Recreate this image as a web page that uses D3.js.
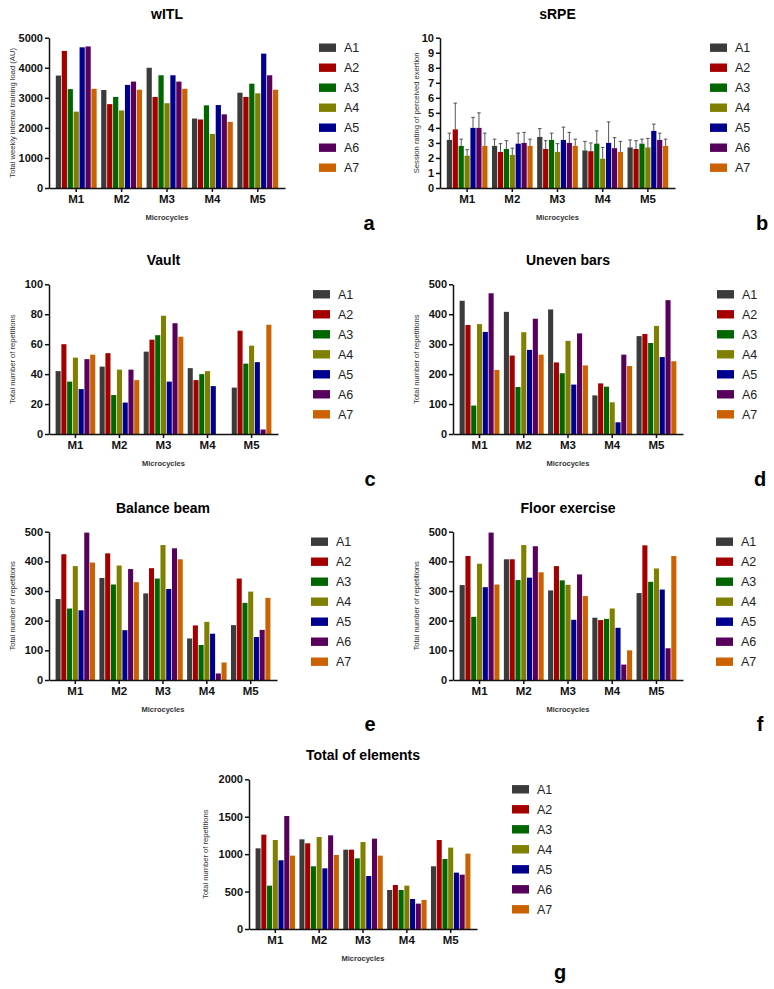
<!DOCTYPE html>
<html>
<head>
<meta charset="utf-8">
<script src="https://cdn.jsdelivr.net/npm/d3@7"></script>
<style>
  body { margin: 0; background: #fff; }
  svg { font-family: "Liberation Sans", Arial, sans-serif; }
  .tick text { font-weight: bold; fill: #111; }
  .domain, .tick line { stroke: #111; stroke-width: 1.5; }
</style>
</head>
<body>
<svg id="chart" width="774" height="989"></svg>
<script>
// categories and series
const microcycles = ["M1", "M2", "M3", "M4", "M5"];
const athletes = ["A1", "A2", "A3", "A4", "A5", "A6", "A7"];
const athleteColors = ["#3b3b3b", "#a50000", "#006600", "#808000", "#00008f", "#57005c", "#cc6100"];

// values: one row per microcycle, one column per athlete
const witlValues = [
    [3740, 4560, 3290, 2540, 4680, 4710, 3300],
    [3260, 2790, 3030, 2580, 3430, 3540, 3270],
    [4000, 3030, 3750, 2820, 3750, 3540, 3300],
    [2310, 2280, 2750, 1800, 2760, 2450, 2200],
    [3170, 3030, 3470, 3150, 4470, 3750, 3270]
];
const srpeValues = [
    [3.2, 3.9, 2.8, 2.15, 4.0, 4.0, 2.8],
    [2.8, 2.4, 2.6, 2.2, 2.95, 3.0, 2.8],
    [3.4, 2.6, 3.2, 2.4, 3.2, 3.0, 2.8],
    [2.5, 2.45, 2.95, 1.95, 3.0, 2.65, 2.4],
    [2.7, 2.6, 2.95, 2.7, 3.8, 3.2, 2.8]
];
const srpeUpper = [
    [3.65, 5.65, 3.25, 2.55, 4.7, 5.0, 3.65],
    [3.25, 2.95, 3.15, 2.65, 3.65, 3.7, 3.25],
    [3.95, 3.15, 3.65, 2.95, 4.05, 3.7, 3.25],
    [3.1, 3.0, 3.8, 2.7, 4.4, 3.35, 3.1],
    [3.2, 3.15, 3.25, 3.3, 4.25, 3.65, 3.25]
];
const vaultValues = [
    [42, 60, 35, 51, 30, 50, 53],
    [45, 54, 26, 43, 21, 43, 36],
    [55, 63, 66, 79, 35, 74, 65],
    [44, 36, 40, 42, 32, 0, 0],
    [31, 69, 47, 59, 48, 3, 73]
];
const unevenValues = [
    [445, 364, 95, 367, 341, 470, 214],
    [408, 262, 157, 340, 281, 385, 265],
    [416, 239, 203, 311, 165, 336, 229],
    [129, 169, 158, 106, 39, 265, 227],
    [327, 334, 304, 361, 257, 447, 243]
];
const beamValues = [
    [273, 424, 241, 384, 235, 497, 396],
    [344, 427, 322, 386, 168, 374, 330],
    [292, 377, 342, 455, 307, 444, 407],
    [140, 184, 118, 196, 156, 22, 59],
    [185, 342, 260, 298, 145, 169, 277]
];
const floorValues = [
    [320, 418, 213, 392, 313, 497, 322],
    [407, 407, 337, 455, 345, 451, 363],
    [302, 384, 336, 321, 203, 356, 283],
    [210, 202, 206, 241, 176, 52, 100],
    [293, 454, 331, 376, 305, 107, 418]
];
const totalValues = [
    [1078, 1260, 579, 1189, 918, 1510, 980],
    [1198, 1145, 838, 1229, 811, 1251, 989],
    [1060, 1060, 944, 1162, 708, 1207, 980],
    [521, 588, 521, 579, 401, 339, 388],
    [838, 1189, 935, 1087, 753, 726, 1007]
];

const witlTicks = [0, 1000, 2000, 3000, 4000, 5000];
const srpeTicks = [0, 1, 2, 3, 4, 5, 6, 7, 8, 9, 10];
const vaultTicks = [0, 20, 40, 60, 80, 100];
const repTicks = [0, 100, 200, 300, 400, 500];
const totalTicks = [0, 500, 1000, 1500, 2000];

// layout of each panel
const panels = [
    {title: "wITL", ylabel: "Total weekly internal training load (AU)", values: witlValues, ticks: witlTicks,
     x0: 49, x1: 285, top: 37.7, bottom: 188, legendX: 319, labelX: 12, letter: "a", letterX: 369, letterY: 230},
    {title: "sRPE", ylabel: "Session rating of perceived exertion", values: srpeValues, upper: srpeUpper, ticks: srpeTicks,
     x0: 440, x1: 675, top: 37.7, bottom: 188, legendX: 710, labelX: 416, letter: "b", letterX: 762, letterY: 230},
    {title: "Vault", ylabel: "Total number of repetitions", values: vaultValues, ticks: vaultTicks,
     x0: 49, x1: 278, top: 284.3, bottom: 434, legendX: 313, labelX: 12, letter: "c", letterX: 370, letterY: 486},
    {title: "Uneven bars", ylabel: "Total number of repetitions", values: unevenValues, ticks: repTicks,
     x0: 453, x1: 683, top: 284.3, bottom: 434, legendX: 717, labelX: 416, letter: "d", letterX: 760, letterY: 486},
    {title: "Balance beam", ylabel: "Total number of repetitions", values: beamValues, ticks: repTicks,
     x0: 49, x1: 277, top: 531.7, bottom: 680, legendX: 311, labelX: 12, letter: "e", letterX: 370, letterY: 731},
    {title: "Floor exercise", ylabel: "Total number of repetitions", values: floorValues, ticks: repTicks,
     x0: 453, x1: 683, top: 531.7, bottom: 680, legendX: 716, labelX: 416, letter: "f", letterX: 760, letterY: 731},
    {title: "Total of elements", ylabel: "Total number of repetitions", values: totalValues, ticks: totalTicks,
     x0: 249, x1: 477, top: 779.3, bottom: 929, legendX: 512, labelX: 205, letter: "g", letterX: 560, letterY: 979}
];

const svg = d3.select("#chart");

function drawPanel(p) {
    let g = svg.append("g");
    let xGroup = d3.scaleBand()
        .domain(microcycles)
        .range([p.x0, p.x1])
        .paddingInner(0.1)
        .paddingOuter(0.15);
    let xBar = d3.scaleBand()
        .domain(athletes)
        .range([0, xGroup.bandwidth()])
        .paddingInner(0.12);
    let y = d3.scaleLinear()
        .domain([0, d3.max(p.ticks)])
        .range([p.bottom, p.top]);

    // bars
    microcycles.forEach(function (m, mi) {
        let grp = g.append("g").attr("transform", "translate(" + xGroup(m) + ",0)");
        grp.selectAll("rect")
            .data(p.values[mi])
            .enter().append("rect")
            .attr("x", function (d, i) { return xBar(athletes[i]); })
            .attr("y", function (d) { return y(d); })
            .attr("width", xBar.bandwidth())
            .attr("height", function (d) { return p.bottom - y(d); })
            .style("fill", function (d, i) { return athleteColors[i]; });

        if (p.upper) {
            let cap = 1.8;
            p.upper[mi].forEach(function (u, i) {
                let cx = xBar(athletes[i]) + xBar.bandwidth() / 2;
                grp.append("line")
                    .attr("x1", cx).attr("x2", cx)
                    .attr("y1", y(p.values[mi][i])).attr("y2", y(u))
                    .style("stroke", "#444").style("stroke-width", 0.9);
                grp.append("line")
                    .attr("x1", cx - cap).attr("x2", cx + cap)
                    .attr("y1", y(u)).attr("y2", y(u))
                    .style("stroke", "#444").style("stroke-width", 0.9);
            });
        }
    });

    // axes
    g.append("g")
        .attr("transform", "translate(" + p.x0 + ",0)")
        .call(d3.axisLeft(y).tickValues(p.ticks).tickFormat(d3.format("d")).tickSize(4).tickSizeOuter(0).tickPadding(2))
        .selectAll("text").style("font-size", "11px");
    g.append("g")
        .attr("transform", "translate(0," + p.bottom + ")")
        .call(d3.axisBottom(xGroup).tickSize(4).tickSizeOuter(0).tickPadding(3))
        .selectAll("text").style("font-size", "11.5px");

    // titles and labels
    let cx = (p.x0 + p.x1) / 2;
    g.append("text")
        .attr("x", cx).attr("y", p.top - 19)
        .attr("text-anchor", "middle")
        .style("font-size", "14px").style("font-weight", "bold")
        .text(p.title);
    g.append("text")
        .attr("x", cx).attr("y", p.bottom + 32)
        .attr("text-anchor", "middle")
        .style("font-size", "7.5px").style("font-weight", "bold").style("fill", "#333")
        .text("Microcycles");
    g.append("text")
        .attr("transform", "translate(" + (p.labelX + 2.5) + "," + ((p.top + p.bottom) / 2) + ") rotate(-90)")
        .attr("text-anchor", "middle")
        .style("font-size", "7.6px").style("fill", "#333")
        .text(p.ylabel);
    g.append("text")
        .attr("x", p.letterX).attr("y", p.letterY)
        .attr("text-anchor", "middle")
        .style("font-size", "20px").style("font-weight", "bold")
        .text(p.letter);

    // legend
    let leg = g.append("g").attr("transform", "translate(" + p.legendX + "," + (p.top + 10) + ")");
    athletes.forEach(function (a, i) {
        leg.append("rect")
            .attr("x", 0).attr("y", i * 20 - 4.2)
            .attr("width", 17).attr("height", 8.4)
            .style("fill", athleteColors[i]);
        leg.append("text")
            .attr("x", 25).attr("y", i * 20 + 4.5)
            .style("font-size", "12.5px").style("fill", "#222")
            .text(a);
    });
}

panels.forEach(drawPanel);
</script>
</body>
</html>
